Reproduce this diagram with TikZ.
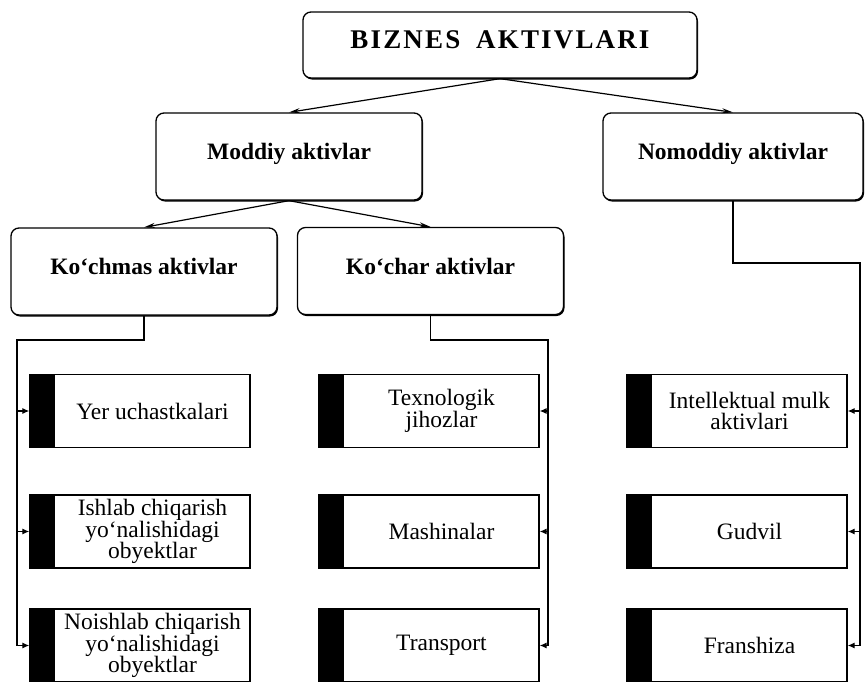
\documentclass[tikz,border=0pt]{standalone}
\usepackage{fontspec}
\setmainfont{Liberation Serif}
\newfontfamily\spacedfont{Liberation Serif}[LetterSpace=8]
\usetikzlibrary{arrows.meta,shadows}
\newcommand{\leaftext}[1]{\hspace*{25pt}\parbox{194pt}{\centering #1}}

\begin{document}
\begin{tikzpicture}[x=1pt,y=-1pt,
    head/.style={draw,line width=1.3pt,rounded corners=8pt,fill=white,inner sep=0pt,
      minimum width=266pt,minimum height=87pt,text height=18pt,text depth=12pt,
      drop shadow={shadow xshift=1pt,shadow yshift=-1.5pt,fill=black,opacity=1},
      font=\bfseries\fontsize{23.5}{25}\selectfont},
    leaf/.style={draw,line width=1.3pt,fill=white,inner sep=0pt,
      minimum width=220pt,minimum height=73pt,
      font=\fontsize{23.5}{21.5}\selectfont,
      path picture={\fill[black] (path picture bounding box.north west)
        rectangle ([xshift=25pt]path picture bounding box.south west);}},
    spine/.style={line width=1.2pt},
    tip/.style={line width=1.2pt,-{Latex[length=7pt,width=6pt]}}]
  \useasboundingbox (0,0) rectangle (865,681);
  \draw
    (500,45) node[head,minimum width=394pt,minimum height=66pt] (biz)
      {\spacedfont\bfseries\fontsize{27}{29}\selectfont BIZNES\hspace{7pt} AKTIVLARI}
    (289,156.5) node[head] (mod){Moddiy aktivlar}
    (733,156.5) node[head,minimum width=260pt] (nomod){Nomoddiy aktivlar}
    (144,271.5) node[head] (kochmas){Ko‘chmas aktivlar}
    (430.5,271) node[head] (kochar){Ko‘char aktivlar};
  \draw
    (140,411) node[leaf] (yer){\leaftext{Yer uchastkalari}}
    (140,531.5) node[leaf] (ishlab){\leaftext{Ishlab chiqarish\\yo‘nalishidagi\\obyektlar}}
    (140,645.5) node[leaf] (noishlab){\leaftext{Noishlab chiqarish\\yo‘nalishidagi\\obyektlar}}
    (429,411) node[leaf] (texno){\leaftext{Texnologik\\jihozlar}}
    (429,531.5) node[leaf] (mashina){\leaftext{Mashinalar}}
    (429,645.5) node[leaf] (transport){\leaftext{Transport}}
    (737,411) node[leaf] (intel){\leaftext{Intellektual mulk\\aktivlari}}
    (737,531.5) node[leaf] (gudvil){\leaftext{Gudvil}}
    (737,645.5) node[leaf] (fran){\leaftext{Franshiza}};
  \coordinate (lt) at (17,340);
  \coordinate (rt2) at (548,340);
  \coordinate (rt3) at (860,263);
  \begin{scope}[line width=1.2pt,-{Stealth[length=11pt,width=5pt]}]
    \draw (biz.south) to (mod.north);
    \draw (biz.south) to (nomod.north);
    \draw (mod.south) to (kochmas.north);
    \draw (mod.south) to (kochar.north);
  \end{scope}
  \begin{scope}[spine]
    \draw (kochmas.south) |- (lt) -- (lt |- noishlab.west);
    \draw (kochar.south) |- (rt2) -- (rt2 |- transport.east);
    \draw (nomod.south) |- (rt3) -- (rt3 |- fran.east);
  \end{scope}
  \begin{scope}[tip]
    \draw (lt |- yer.west) to (yer.west);
    \draw (lt |- ishlab.west) to (ishlab.west);
    \draw (lt |- noishlab.west) to (noishlab.west);
    \draw (rt2 |- texno.east) to (texno.east);
    \draw (rt2 |- mashina.east) to (mashina.east);
    \draw (rt2 |- transport.east) to (transport.east);
    \draw (rt3 |- intel.east) to (intel.east);
    \draw (rt3 |- gudvil.east) to (gudvil.east);
    \draw (rt3 |- fran.east) to (fran.east);
  \end{scope}
\end{tikzpicture}
\end{document}
